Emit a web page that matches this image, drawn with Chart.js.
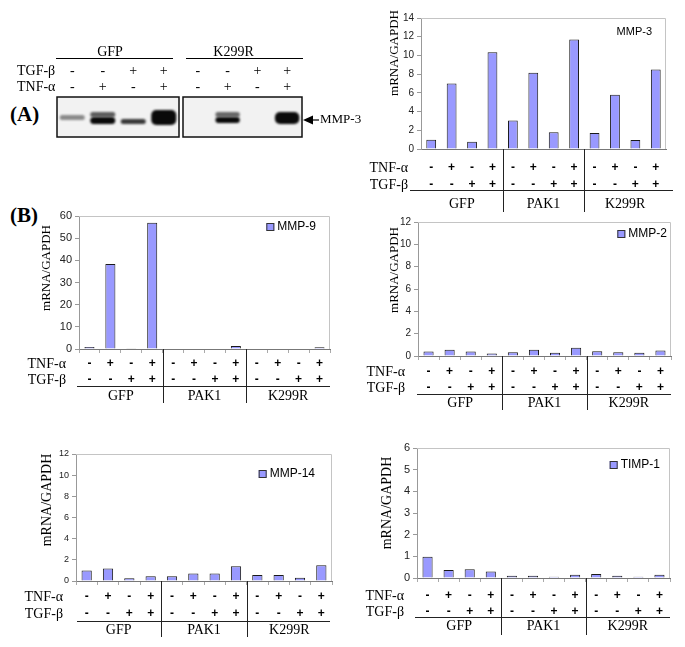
<!DOCTYPE html>
<html>
<head>
<meta charset="utf-8">
<script src="https://cdn.jsdelivr.net/npm/chart.js@4.4.0/dist/chart.umd.min.js"></script>
<style>
  body { margin: 0; background: #fff; }
  #page { position: relative; width: 685px; height: 647px; overflow: hidden; }
  canvas { position: absolute; }
  .panel { position: absolute; font: bold 21px "Liberation Serif", "Times New Roman", serif; line-height: 21px; }
</style>
</head>
<body>
<div id="page">
  <div class="panel" style="left:10px;top:104px">(A)</div>
  <div class="panel" style="left:10px;top:205px">(B)</div>
</div>
<script>
// ---- data ----
const groups = ['GFP', 'PAK1', 'K299R'];
const tnfAlpha = ['-', '+', '-', '+', '-', '+', '-', '+', '-', '+', '-', '+'];
const tgfBeta = ['-', '-', '+', '+', '-', '-', '+', '+', '-', '-', '+', '+'];

const mmp3 = [1.0, 7.0, 0.78, 10.35, 3.05, 8.15, 1.78, 11.7, 1.7, 5.8, 0.95, 8.5];
const mmp9 = [0.9, 38.3, 0.3, 57.0, 0, 0, 0, 1.4, 0, 0, 0, 0.75];
const mmp2 = [0.4, 0.57, 0.4, 0.22, 0.34, 0.57, 0.28, 0.75, 0.42, 0.34, 0.28, 0.5];
const mmp14 = [1.0, 1.18, 0.25, 0.45, 0.45, 0.72, 0.72, 1.4, 0.57, 0.57, 0.3, 1.48];
const timp1 = [0.98, 0.37, 0.4, 0.3, 0.1, 0.1, 0.06, 0.15, 0.18, 0.1, 0.06, 0.15];

// western blot (A): lanes and band extents / darkness
const blotTgf = ['-', '-', '+', '+'];
const blotTnf = ['-', '+', '-', '+'];
const gfpBandLower = [[4.25, 5.5], [3.25, 5.0], [3.25, 4.5], [3.0, 6.75]];
const gfpBandUpper = [null, [5.0, 6.25], null, null];
const gfpDarkLower = [0.45, 1.0, 0.8, 1.0];
const gfpDarkUpper = [0, 0.65, 0, 0];
const k299rBandLower = [null, [3.5, 5.0], null, [3.25, 6.25]];
const k299rBandUpper = [null, [5.0, 6.25], null, null];
const k299rDarkLower = [0, 1.0, 0, 1.0];
const k299rDarkUpper = [0, 0.6, 0, 0];

const SERIF = '"Liberation Serif", "Times New Roman", serif';
const SANS = '"Liberation Sans", Arial, sans-serif';
const page = document.getElementById('page');

function addCanvas(id, x, y, w, h) {
  const c = document.createElement('canvas');
  c.id = id; c.width = w; c.height = h;
  c.style.left = x + 'px'; c.style.top = y + 'px';
  c.style.width = w + 'px'; c.style.height = h + 'px';
  page.appendChild(c);
  return c;
}

// ---- blot panel ----
function blotPlugin(opt) {
  return {
    id: 'blot_' + opt.name,
    beforeDatasetsDraw(chart) {
      const { ctx, chartArea: a } = chart;
      ctx.fillStyle = '#f2f2f2';
      ctx.fillRect(a.left, a.top, a.right - a.left, a.bottom - a.top);
      ctx.save();
      ctx.filter = 'blur(1.3px)';
    },
    afterDatasetsDraw(chart) {
      const { ctx, chartArea: a } = chart;
      ctx.restore();
      ctx.strokeStyle = '#111';
      ctx.lineWidth = 1.5;
      ctx.strokeRect(a.left, a.top, a.right - a.left, a.bottom - a.top);
    },
    afterDraw(chart) {
      const { ctx, chartArea: a, scales: { x } } = chart;
      ctx.save();
      ctx.fillStyle = '#000';
      ctx.strokeStyle = '#000';
      ctx.font = '14px ' + SERIF;
      ctx.textAlign = 'center';
      ctx.textBaseline = 'middle';
      ctx.fillText(opt.name, (a.left + a.right) / 2 + opt.nameShift, 52);
      ctx.lineWidth = 1;
      ctx.beginPath();
      ctx.moveTo(a.left + opt.line[0], 58.5);
      ctx.lineTo(a.right + opt.line[1], 58.5);
      ctx.stroke();
      blotTgf.forEach((s, i) => ctx.fillText(s, x.getPixelForValue(i), 71));
      blotTnf.forEach((s, i) => ctx.fillText(s, x.getPixelForValue(i), 87));
      if (opt.rowLabels) {
        ctx.textAlign = 'left';
        ctx.fillText('TGF-\u03b2', 17, 71);
        ctx.fillText('TNF-\u03b1', 17, 87);
      }
      if (opt.arrow) {
        const tip = a.right + 1, ay = 120;
        ctx.beginPath();
        ctx.moveTo(tip, ay);
        ctx.lineTo(tip + 10, ay - 4.5);
        ctx.lineTo(tip + 10, ay + 4.5);
        ctx.closePath();
        ctx.fill();
        ctx.lineWidth = 1.2;
        ctx.beginPath();
        ctx.moveTo(tip + 9, ay);
        ctx.lineTo(tip + 16, ay);
        ctx.stroke();
        ctx.font = '13px ' + SERIF;
        ctx.textAlign = 'left';
        ctx.fillText('MMP-3', tip + 17, ay);
      }
      ctx.restore();
    }
  };
}

function makeBlot(opt) {
  const c = addCanvas('blot_' + opt.name, opt.box[0], opt.box[1], opt.box[2], opt.box[3]);
  const dark = (arr) => arr.map(d => 'rgba(10,10,10,' + d + ')');
  new Chart(c, {
    type: 'bar',
    data: {
      labels: blotTnf.map((t, i) => 'TGF' + blotTgf[i] + ' TNF' + t),
      datasets: [
        { data: opt.lower, backgroundColor: dark(opt.darkLower), borderWidth: 0, borderRadius: 5, borderSkipped: false },
        { data: opt.upper, backgroundColor: dark(opt.darkUpper), borderWidth: 0, borderRadius: 4, borderSkipped: false }
      ]
    },
    options: {
      responsive: false,
      animation: false,
      events: [],
      layout: { padding: opt.padding },
      plugins: { legend: { display: false }, tooltip: { enabled: false } },
      datasets: { bar: { grouped: false, barPercentage: 0.82, categoryPercentage: 1 } },
      scales: {
        x: { display: false },
        y: { display: false, min: 0, max: 10 }
      }
    },
    plugins: [blotPlugin(opt)]
  });
}

makeBlot({ name: 'GFP', box: [0, 0, 182, 150], padding: { left: 57, top: 97, right: 3, bottom: 13 },
  lower: gfpBandLower, upper: gfpBandUpper, darkLower: gfpDarkLower, darkUpper: gfpDarkUpper,
  line: [-1, -6], nameShift: -8, rowLabels: true, arrow: false });
makeBlot({ name: 'K299R', box: [182, 0, 180, 150], padding: { left: 1, top: 97, right: 60, bottom: 13 },
  lower: k299rBandLower, upper: k299rBandUpper, darkLower: k299rDarkLower, darkUpper: k299rDarkUpper,
  line: [3, 1], nameShift: -9, rowLabels: false, arrow: true });

// ---- bar charts ----
const Y_W = 34, X_H = 5;

function figurePlugin(p) {
  return {
    id: 'fig_' + p.name,
    afterDraw(chart) {
      const { ctx, chartArea: a, scales: { x } } = chart;
      const ox = p.box[0], oy = p.box[1];
      ctx.save();
      // light frame at top and right
      ctx.strokeStyle = '#c4c4c4';
      ctx.lineWidth = 1;
      ctx.beginPath();
      ctx.moveTo(a.left, a.top + 0.5);
      ctx.lineTo(a.right - 0.5, a.top + 0.5);
      ctx.lineTo(a.right - 0.5, a.bottom);
      ctx.stroke();

      // y title
      ctx.save();
      ctx.translate(p.title[0] - ox, p.title[1] - oy);
      ctx.rotate(-Math.PI / 2);
      ctx.font = p.titleSize + 'px ' + SERIF;
      ctx.fillStyle = '#000';
      ctx.textAlign = 'center';
      ctx.textBaseline = 'middle';
      ctx.fillText('mRNA/GAPDH', 0, 0);
      ctx.restore();

      // legend
      ctx.font = p.legendSize + 'px ' + SANS;
      ctx.fillStyle = '#000';
      ctx.textAlign = 'right';
      ctx.textBaseline = 'middle';
      const lx = p.legend[0] - ox, ly = p.legend[1] - oy;
      ctx.fillText(p.name, lx, ly);
      if (p.legendSquare) {
        const tw = ctx.measureText(p.name).width;
        const sx = lx - tw - 11;
        ctx.fillStyle = '#9999ff';
        ctx.fillRect(sx, ly - 4, 8, 8);
        ctx.strokeStyle = '#333';
        ctx.strokeRect(sx + 0.5, ly - 3.5, 7, 7);
      }

      // condition table under the axis
      const [r1, r2, rl, rg, rs] = p.rows;
      const b = a.bottom;
      ctx.fillStyle = '#000';
      ctx.font = 'bold 12px ' + SANS;
      ctx.textAlign = 'center';
      tnfAlpha.forEach((s, i) => ctx.fillText(s, x.getPixelForValue(i), b + r1));
      tgfBeta.forEach((s, i) => ctx.fillText(s, x.getPixelForValue(i), b + r2));
      ctx.font = '14px ' + SERIF;
      ctx.textAlign = 'right';
      ctx.fillText('TNF-\u03b1', a.left - 13, b + r1);
      ctx.fillText('TGF-\u03b2', a.left - 13, b + r2);

      ctx.strokeStyle = '#222';
      ctx.lineWidth = 1;
      ctx.beginPath();
      ctx.moveTo(a.left + p.lineExt[0], Math.round(b + rl) + 0.5);
      ctx.lineTo(a.right + p.lineExt[1], Math.round(b + rl) + 0.5);
      ctx.stroke();

      ctx.textAlign = 'center';
      groups.forEach((g, gi) => {
        const cx = (x.getPixelForValue(gi * 4) + x.getPixelForValue(gi * 4 + 3)) / 2;
        ctx.fillText(g, cx, b + rg);
        if (gi > 0) {
          const sx = Math.round((x.getPixelForValue(gi * 4 - 1) + x.getPixelForValue(gi * 4)) / 2) + 0.5;
          ctx.beginPath();
          ctx.moveTo(sx, b);
          ctx.lineTo(sx, b + rs);
          ctx.stroke();
        }
      });
      ctx.restore();
    }
  };
}

function makeBars(p) {
  const [bx, by, bw, bh] = p.box;
  const [l, r, t, bt] = p.plot;
  const c = addCanvas('chart_' + p.name, bx, by, bw, bh);
  new Chart(c, {
    type: 'bar',
    data: {
      labels: tnfAlpha.map((tn, i) => groups[Math.floor(i / 4)] + ' TNF' + tn + ' TGF' + tgfBeta[i]),
      datasets: [{
        label: p.name,
        data: p.values,
        backgroundColor: '#9999ff',
        borderColor: '#1a1a1a',
        borderWidth: 1,
        barPercentage: 0.48,
        categoryPercentage: 1
      }]
    },
    options: {
      responsive: false,
      animation: false,
      events: [],
      layout: { padding: { left: l - bx - Y_W, top: t - by, right: bx + bw - r, bottom: by + bh - bt - X_H } },
      plugins: { legend: { display: false }, tooltip: { enabled: false } },
      scales: {
        x: {
          afterFit(s) { s.height = X_H; },
          ticks: { display: false },
          grid: { display: p.xTicks, drawOnChartArea: false, tickLength: 4, offset: true, color: '#aaa' },
          border: { color: '#777' }
        },
        y: {
          afterFit(s) { s.width = Y_W; },
          min: 0, max: p.max,
          ticks: { stepSize: p.step, color: '#222', padding: 3, font: { family: SANS, size: p.tickSize } },
          grid: { drawOnChartArea: false, tickLength: 4, color: '#999' },
          border: { color: '#999' }
        }
      }
    },
    plugins: [figurePlugin(p)]
  });
}

makeBars({ name: 'MMP-3', values: mmp3, box: [340, 0, 345, 215], plot: [421, 666, 18, 149],
  max: 14, step: 2, tickSize: 10, title: [395, 53], titleSize: 13,
  legend: [652, 32], legendSize: 11, legendSquare: false,
  rows: [19, 36, 41, 55, 63], lineExt: [-11, 7], xTicks: false });
makeBars({ name: 'MMP-9', values: mmp9, box: [0, 200, 340, 210], plot: [79, 330, 216, 349],
  max: 60, step: 10, tickSize: 11, title: [47, 268], titleSize: 13,
  legend: [316, 227], legendSize: 12, legendSquare: true,
  rows: [15, 31, 37, 47, 54], lineExt: [-2, 0], xTicks: true });
makeBars({ name: 'MMP-2', values: mmp2, box: [340, 210, 345, 205], plot: [418, 671, 222, 356],
  max: 12, step: 2, tickSize: 10, title: [395, 270], titleSize: 13,
  legend: [667, 234], legendSize: 12, legendSquare: true,
  rows: [16, 32, 38, 47, 54], lineExt: [-1, 0], xTicks: true });
makeBars({ name: 'MMP-14', values: mmp14, box: [0, 440, 340, 207], plot: [76, 332, 454, 581],
  max: 12, step: 2, tickSize: 9, title: [47, 500], titleSize: 14,
  legend: [315, 474], legendSize: 12, legendSquare: true,
  rows: [16, 33, 40, 49, 56], lineExt: [1, -2], xTicks: true });
makeBars({ name: 'TIMP-1', values: timp1, box: [340, 435, 345, 212], plot: [417, 670, 448, 578],
  max: 6, step: 1, tickSize: 11, title: [387, 503], titleSize: 14,
  legend: [660, 465], legendSize: 12, legendSquare: true,
  rows: [18, 34, 39, 48, 57], lineExt: [-2, 0], xTicks: true });
</script>
</body>
</html>
